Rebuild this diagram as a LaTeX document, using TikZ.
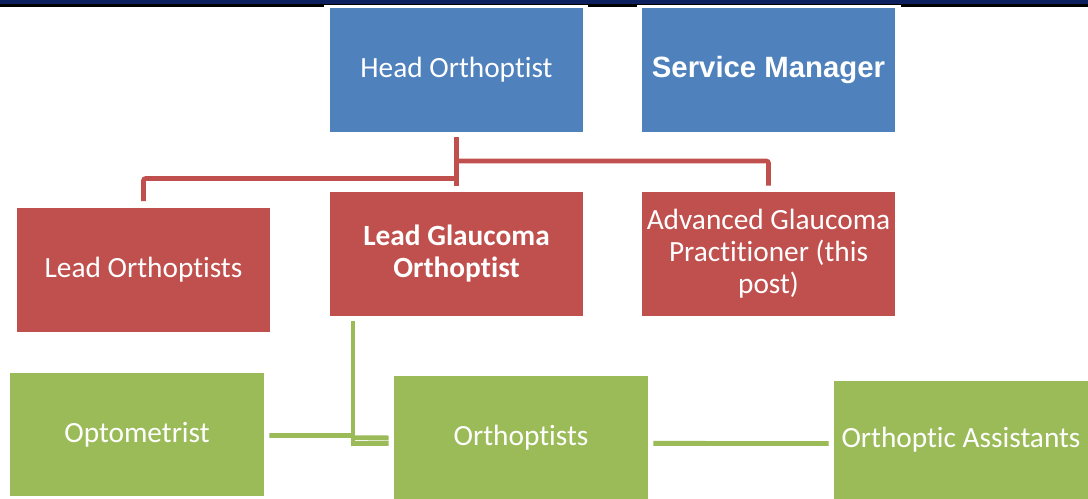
\documentclass[tikz,border=0pt]{standalone}
\usepackage{fontspec}
\setmainfont[Ligatures={NoCommon}]{Carlito}
\newfontfamily\arialfont{Liberation Sans}
\definecolor{boxblue}{HTML}{4F81BD}
\definecolor{boxred}{HTML}{C0504D}
\definecolor{boxgreen}{HTML}{9BBB59}
\definecolor{navyband}{HTML}{0C1F5E}
\begin{document}
\begin{tikzpicture}[x=0.75pt,y=-0.75pt,
  box/.style={rectangle, inner sep=0pt, text=white, align=center,
    minimum width=190pt, minimum height=93pt,
    font=\fontsize{22}{24}\selectfont},
  bluebox/.style={box, fill=boxblue},
  redbox/.style={box, fill=boxred},
  greenbox/.style={box, fill=boxgreen, minimum width=190.5pt, minimum height=92.25pt},
  redline/.style={draw=boxred, line width=3.4pt, rounded corners=1.5pt},
  greenline/.style={draw=boxgreen, line width=3.6pt}]
\useasboundingbox (0,0) rectangle (1088,499);
% top band
\fill[navyband] (0,0) rectangle (1088,4.2);
\fill[black] (0,4.2) rectangle (1088,6.6);
\fill[white] (324,5.4) rectangle (588,6.6);
\fill[white] (637,5.4) rectangle (901,6.6);
% boxes
\node[bluebox] (ho) at (456.5,70) {Head Orthoptist};
\node[bluebox, font=\arialfont\bfseries\fontsize{22}{24}\selectfont] (sm) at (768.5,70) {Service Manager};
\node[redbox] (lo) at (143.5,270) {Lead Orthoptists};
\node[redbox, font=\bfseries\fontsize{22}{24}\selectfont] (lg) at (456.5,254) {Lead Glaucoma\\Orthoptist};
\node[redbox] (ag) at (768.5,254) {Advanced Glaucoma\\Practitioner (this\\post)};
\node[greenbox] (op) at (137,434.5) {Optometrist};
\node[greenbox] (ot) at (521,437.5) {Orthoptists};
\node[greenbox, minimum height=88.5pt] (oa) at (961,440) {Orthoptic Assistants};
% red connectors
\coordinate (jr) at (456.5,161);
\coordinate (jl) at (456.5,178.5);
\draw[redline] ([yshift=-3.8pt]ho.south) -- ([yshift=4.5pt]lg.north);
\draw[redline] (jr) -| ([yshift=4.5pt]ag.north);
\draw[redline] (jl) -| ([yshift=5pt]lo.north);
% green connectors
\coordinate (gt) at (353,321);
\coordinate (gb) at (353,446);
\draw[greenline] (gt) -- (gb);
\draw[greenline] ([xshift=3.8pt,yshift=-0.8pt]op.east) -- (353,435.5);
\draw[greenline] (351,437.8) -- ([xshift=-3.8pt,yshift=-0.3pt]ot.west);
\draw[greenline] (351,443.6) -- ([xshift=-3.8pt,yshift=-4.4pt]ot.west);
\draw[greenline] ([xshift=3.8pt,yshift=-4.4pt]ot.east) -- ([xshift=-3.8pt,yshift=-2.6pt]oa.west);
\end{tikzpicture}
\end{document}
